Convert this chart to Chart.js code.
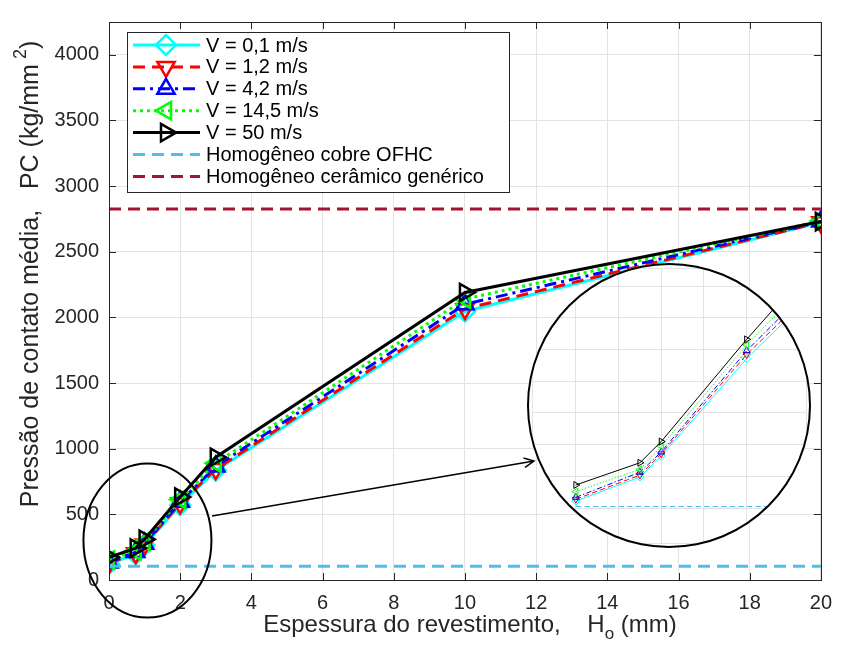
<!DOCTYPE html>
<html>
<head>
<meta charset="utf-8">
<script src="https://cdn.jsdelivr.net/npm/chart.js@4/dist/chart.umd.min.js"></script>
<style>
  body { margin: 0; background: #fff; }
  #wrap { position: relative; width: 843px; height: 646px; }
  #mainChart { position: absolute; left: 0; top: 0; }
  #insetClip {
    position: absolute; left: 527px; top: 263px; width: 284px; height: 285px;
    border-radius: 50%; overflow: hidden; background: #fff;
  }
  #insetRing {
    position: absolute; left: 527px; top: 263px; width: 284px; height: 285px;
    border-radius: 50%; border: 2px solid #000; box-sizing: border-box;
  }
</style>
</head>
<body>
<div id="wrap">
  <canvas id="mainChart" width="843" height="646"></canvas>
  <div id="insetClip"><canvas id="insetChart" width="284" height="285"></canvas></div>
  <div id="insetRing"></div>
</div>
<script>
// Data
const thickness = [0, 0.75, 1, 2, 3, 10, 20]; // H_o (mm)
const pcV01 = [122, 198, 264, 571, 835, 2045, 2725];
const pcV12 = [128, 204, 271, 584, 845, 2065, 2725];
const pcV42 = [134, 213, 277, 596, 865, 2100, 2730];
const pcV145 = [152, 222, 295, 614, 890, 2140, 2735];
const pcV50 = [173, 243, 310, 632, 935, 2190, 2730];
const homogX = [0, 20];
const homogCobre = [105, 105];
const homogCeramico = [2825, 2825];
const seriesLabels = [
  "V = 0,1 m/s", "V = 1,2 m/s", "V = 4,2 m/s", "V = 14,5 m/s", "V = 50 m/s",
  "Homogêneo cobre OFHC", "Homogêneo cerâmico genérico",
];
const xTicks = [0, 2, 4, 6, 8, 10, 12, 14, 16, 18, 20];
const yTicks = [0, 500, 1000, 1500, 2000, 2500, 3000, 3500, 4000];

// Styles
const FONT = "'Liberation Sans', Arial, Helvetica, sans-serif";
const AXIS_COLOR = "#262626";
const GRID_COLOR = "#e3e3e3";
const seriesStyle = [
  { color: "#00ffff", dash: [], point: "rectRot", rot: 0 },
  { color: "#ff0000", dash: [12, 7], point: "triangle", rot: 180 },
  { color: "#0000ff", dash: [12, 5, 3, 5], point: "triangle", rot: 0 },
  { color: "#00ff00", dash: [3, 4], point: "triangle", rot: -90 },
  { color: "#000000", dash: [], point: "triangle", rot: 90 },
  { color: "#4dbeee", dash: [12, 7], point: false, rot: 0 },
  { color: "#a2142f", dash: [12, 7], point: false, rot: 0 },
];

function toPoints(xs, ys) {
  return xs.map((x, i) => ({ x: x, y: ys[i] }));
}

// Build datasets; scale shrinks line width / markers for the zoomed inset
function buildDatasets(lineW, radius, markerW, dashScale) {
  const values = [pcV01, pcV12, pcV42, pcV145, pcV50];
  const sets = values.map((v, i) => ({ label: seriesLabels[i], data: toPoints(thickness, v) }));
  sets.push({ label: seriesLabels[5], data: toPoints(homogX, homogCobre) });
  sets.push({ label: seriesLabels[6], data: toPoints(homogX, homogCeramico) });
  return sets.map((ds, i) => {
    const st = seriesStyle[i];
    return Object.assign(ds, {
      borderColor: st.color,
      borderWidth: lineW,
      borderDash: st.dash.map((d) => d * dashScale),
      backgroundColor: "rgba(0,0,0,0)",
      pointStyle: st.point || "circle",
      pointRotation: st.rot,
      pointRadius: st.point ? radius : 0,
      pointBorderWidth: markerW,
      pointBorderColor: st.color,
      pointBackgroundColor: "rgba(0,0,0,0)",
      fill: false,
      tension: 0,
      order: 10 - i, // first series at the bottom, like the original plot order
    });
  });
}

// Text with sub/superscripts, centred at (cx, cy), optionally rotated
function drawRichText(ctx, parts, cx, cy, angle) {
  ctx.save();
  ctx.translate(cx, cy);
  ctx.rotate(angle);
  let total = 0;
  parts.forEach((p) => {
    ctx.font = p.size + "px " + FONT;
    p.w = ctx.measureText(p.text).width;
    total += p.w;
  });
  let x = -total / 2;
  ctx.fillStyle = AXIS_COLOR;
  ctx.textBaseline = "middle";
  ctx.textAlign = "left";
  parts.forEach((p) => {
    ctx.font = p.size + "px " + FONT;
    ctx.fillText(p.text, x, p.dy || 0);
    x += p.w;
  });
  ctx.restore();
}

// Box, inward ticks, axis titles, zoom marker and legend
const decorPlugin = {
  id: "decor",
  afterDraw(chart) {
    const ctx = chart.ctx;
    const a = chart.chartArea;
    const sx = chart.scales.x;
    const sy = chart.scales.y;
    ctx.save();

    // axes box + inward ticks
    ctx.strokeStyle = AXIS_COLOR;
    ctx.lineWidth = 1;
    ctx.setLineDash([]);
    ctx.strokeRect(Math.round(a.left) + 0.5, Math.round(a.top) + 0.5,
      Math.round(a.right - a.left), Math.round(a.bottom - a.top));
    ctx.beginPath();
    xTicks.forEach((v) => {
      const px = Math.round(sx.getPixelForValue(v)) + 0.5;
      ctx.moveTo(px, a.bottom); ctx.lineTo(px, a.bottom - 7);
      ctx.moveTo(px, a.top); ctx.lineTo(px, a.top + 7);
    });
    yTicks.forEach((v) => {
      const py = Math.round(sy.getPixelForValue(v)) + 0.5;
      ctx.moveTo(a.left, py); ctx.lineTo(a.left + 7, py);
      ctx.moveTo(a.right, py); ctx.lineTo(a.right - 7, py);
    });
    ctx.stroke();

    // axis titles
    drawRichText(ctx, [
      { text: "Espessura do revestimento,    H", size: 24 },
      { text: "o", size: 17, dy: 9 },
      { text: " (mm)", size: 24 },
    ], 470, 625, 0);
    drawRichText(ctx, [
      { text: "Pressão de contato média,   PC (kg/mm", size: 25 },
      { text: " 2", size: 18, dy: -10 },
      { text: ")", size: 25 },
    ], 31, 274, -Math.PI / 2);

    // zoom ellipse around the thin-coating region and the arrow to the inset
    ctx.strokeStyle = "#000";
    ctx.lineWidth = 2;
    ctx.beginPath();
    ctx.ellipse(sx.getPixelForValue(1.08), sy.getPixelForValue(300), 64, 77, 0, 0, Math.PI * 2);
    ctx.stroke();
    const x0 = 212, y0 = 516, x1 = 534, y1 = 461;
    ctx.lineWidth = 1.5;
    ctx.beginPath();
    ctx.moveTo(x0, y0); ctx.lineTo(x1, y1);
    const ang = Math.atan2(y1 - y0, x1 - x0);
    ctx.moveTo(x1 - 11 * Math.cos(ang - 0.45), y1 - 11 * Math.sin(ang - 0.45));
    ctx.lineTo(x1, y1);
    ctx.lineTo(x1 - 11 * Math.cos(ang + 0.45), y1 - 11 * Math.sin(ang + 0.45));
    ctx.stroke();

    // legend
    const lx = 127.5, ly = 32.5, lw = 382, lh = 160;
    ctx.fillStyle = "#fff";
    ctx.fillRect(lx, ly, lw, lh);
    ctx.strokeStyle = AXIS_COLOR;
    ctx.lineWidth = 1;
    ctx.strokeRect(lx, ly, lw, lh);
    ctx.font = "20px " + FONT;
    ctx.textBaseline = "middle";
    chart.data.datasets.forEach((ds, i) => {
      const y = 45 + i * 21.9;
      ctx.strokeStyle = ds.borderColor;
      ctx.lineWidth = 3;
      ctx.setLineDash(ds.borderDash);
      ctx.beginPath();
      ctx.moveTo(133, y); ctx.lineTo(200, y);
      ctx.stroke();
      ctx.setLineDash([]);
      if (ds.pointRadius > 0) {
        ctx.fillStyle = "rgba(0,0,0,0)";
        ctx.lineWidth = ds.pointBorderWidth;
        Chart.helpers.drawPoint(ctx, {
          pointStyle: ds.pointStyle, rotation: ds.pointRotation,
          radius: ds.pointRadius, borderWidth: ds.pointBorderWidth,
        }, 166, y);
      }
      ctx.fillStyle = "#000";
      ctx.fillText(ds.label, 206, y + 1);
    });
    ctx.restore();
  },
};

function tickFont() {
  return { size: 20, family: FONT };
}

// Main chart
new Chart(document.getElementById("mainChart").getContext("2d"), {
  type: "line",
  data: { datasets: buildDatasets(3, 10, 2.5, 1) },
  options: {
    responsive: false,
    animation: false,
    layout: { padding: { top: 13, right: 14, left: 0, bottom: 0 } },
    plugins: { legend: { display: false }, tooltip: { enabled: false } },
    scales: {
      x: {
        type: "linear", min: 0, max: 20,
        afterBuildTicks: (s) => { s.ticks = xTicks.map((v) => ({ value: v })); },
        afterFit: (s) => { s.height = 66; },
        grid: { color: GRID_COLOR, drawTicks: false },
        border: { color: AXIS_COLOR },
        ticks: { color: AXIS_COLOR, font: tickFont(), padding: 11, maxRotation: 0,
          callback: (v) => String(v) },
      },
      y: {
        type: "linear", min: 0, max: 4250,
        afterBuildTicks: (s) => { s.ticks = yTicks.map((v) => ({ value: v })); },
        afterFit: (s) => { s.width = 109; },
        grid: { color: GRID_COLOR, drawTicks: false },
        border: { color: AXIS_COLOR },
        ticks: { color: AXIS_COLOR, font: tickFont(), padding: 10,
          callback: (v) => String(v) },
      },
    },
  },
  plugins: [decorPlugin],
});

// Magnified inset (same data, zoomed scales)
new Chart(document.getElementById("insetChart").getContext("2d"), {
  type: "line",
  data: { datasets: buildDatasets(1, 4, 1, 0.45) },
  options: {
    responsive: false,
    animation: false,
    layout: { padding: 0 },
    plugins: { legend: { display: false }, tooltip: { enabled: false } },
    scales: {
      x: {
        type: "linear", min: -0.514, max: 2.695,
        ticks: { display: false, stepSize: 0.5 },
        afterFit: (s) => { s.height = 0; },
        grid: { color: GRID_COLOR, drawTicks: false },
        border: { display: false },
      },
      y: {
        type: "linear", min: -10, max: 857,
        ticks: { display: false, stepSize: 100 },
        afterFit: (s) => { s.width = 0; },
        grid: { color: GRID_COLOR, drawTicks: false },
        border: { display: false },
      },
    },
  },
});
</script>
</body>
</html>
